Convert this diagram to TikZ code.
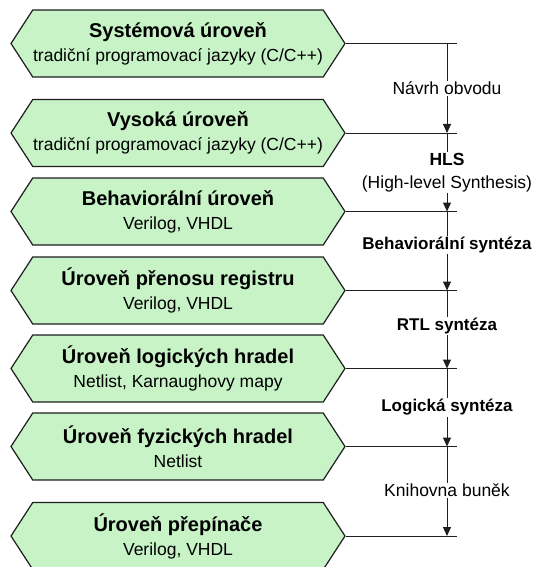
\documentclass[tikz,border=0pt]{standalone}
\usepackage{fontspec}
\setmainfont{Liberation Sans}
\usetikzlibrary{shapes.symbols,arrows.meta,calc}
\definecolor{levelfill}{RGB}{199,243,199}
\definecolor{edge}{RGB}{30,30,30}
\begin{document}
\begin{tikzpicture}[x=1pt,y=-1pt,
  level/.style={shape=signal, signal to=west and east, signal pointer angle=114,
    draw=edge, line width=1.2pt, fill=levelfill,
    minimum width=334pt, minimum height=67pt, inner sep=0pt,
    align=center, font=\fontsize{17.5}{24}\selectfont},
  title/.style={font=\fontsize{20}{24}\selectfont\bfseries},
  tick/.style={draw=edge, line width=1pt},
  flow/.style={tick, -{Triangle[width=8pt,length=9pt]}},
  note/.style={fill=white, inner sep=1pt, align=center,
    font=\fontsize{17.5}{23}\selectfont},
  bnote/.style={note, font=\fontsize{17}{23}\selectfont\bfseries}
]
\useasboundingbox (0,0) rectangle (536,567);

% abstraction levels
\node[level] (sys)  at (178,43.5)  {{\fontsize{20}{24}\selectfont\bfseries Systémová úroveň}\\tradiční programovací jazyky (C/C++)};
\node[level] (high) at (178,133)   {{\fontsize{20}{24}\selectfont\bfseries Vysoká úroveň}\\tradiční programovací jazyky (C/C++)};
\node[level] (beh)  at (178,211.5) {{\fontsize{20}{24}\selectfont\bfseries Behaviorální úroveň}\\Verilog, VHDL};
\node[level] (rtl)  at (178,290.5) {{\fontsize{20}{24}\selectfont\bfseries Úroveň přenosu registru}\\Verilog, VHDL};
\node[level] (gate) at (178,368.5) {{\fontsize{20}{24}\selectfont\bfseries Úroveň logických hradel}\\Netlist, Karnaughovy mapy};
\node[level] (phys) at (178,446.5) {{\fontsize{20}{24}\selectfont\bfseries Úroveň fyzických hradel}\\Netlist};
\node[level] (sw)   at (178,536)   {{\fontsize{20}{24}\selectfont\bfseries Úroveň přepínače}\\Verilog, VHDL};

% columns of the tick marks and of the flow line
\coordinate (rx) at (457,0);
\coordinate (vx) at (447,0);

\foreach \n in {sys,high,beh,rtl,gate,phys,sw}
  \draw[tick] (\n.east) -- (\n.east -| rx);

% design flow between the levels
\draw[flow] (sys.east -| vx)  -- (high.east -| vx);
\draw[flow] (high.east -| vx) -- (beh.east -| vx);
\draw[flow] (beh.east -| vx)  -- (rtl.east -| vx);
\draw[flow] (rtl.east -| vx)  -- (gate.east -| vx);
\draw[flow] (gate.east -| vx) -- (phys.east -| vx);
\draw[flow] (phys.east -| vx) -- (sw.east -| vx);

\node[note]  (l1) at ($(sys.east -| vx)!0.5!(high.east -| vx)$) {Návrh obvodu};
\node[note]  (l2) at ($(high.east -| vx)!0.5!(beh.east -| vx)$) {{\bfseries HLS}\\(High-level Synthesis)};
\node[bnote] (l3) at ($(beh.east -| vx)!0.43!(rtl.east -| vx)$) {Behaviorální syntéza};
\node[bnote] (l4) at ($(rtl.east -| vx)!0.45!(gate.east -| vx)$) {RTL syntéza};
\node[bnote] (l5) at ($(gate.east -| vx)!0.5!(phys.east -| vx)$) {Logická syntéza};
\node[note]  (l6) at ($(phys.east -| vx)!0.49!(sw.east -| vx)$) {Knihovna buněk};
\end{tikzpicture}
\end{document}
